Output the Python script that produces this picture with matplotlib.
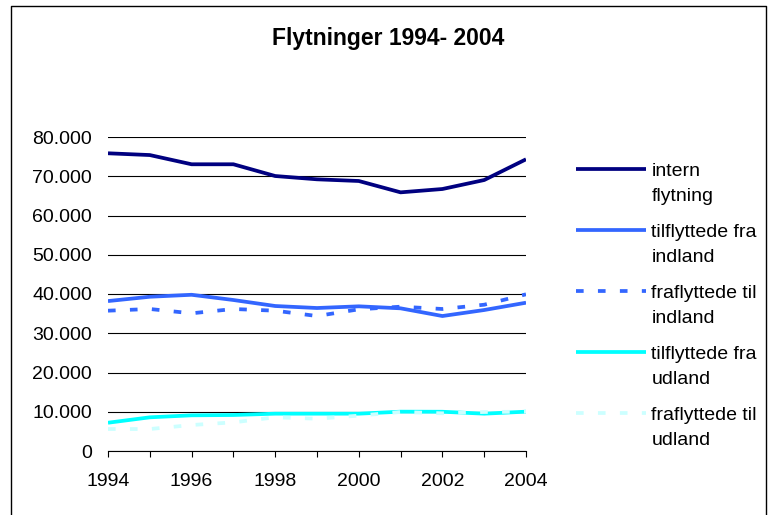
import matplotlib
matplotlib.use("Agg")
import matplotlib.pyplot as plt
from matplotlib.lines import Line2D
from matplotlib.legend_handler import HandlerLine2D
from matplotlib.ticker import FuncFormatter

plt.rcParams['font.family'] = ['Liberation Sans', 'DejaVu Sans']

years = [1994, 1995, 1996, 1997, 1998, 1999, 2000, 2001, 2002, 2003, 2004]
intern_flytning = [75850, 75400, 73050, 73050, 70060, 69220, 68790, 65900, 66750, 69040, 74320]
tilfl_indland = [38200, 39300, 39800, 38470, 36940, 36430, 36860, 36350, 34390, 35920, 37780]
frafl_indland = [35750, 36180, 35080, 36180, 35750, 34390, 36100, 36770, 36180, 37270, 39920]
tilfl_udland = [7200, 8580, 9090, 9170, 9510, 9510, 9510, 10020, 10000, 9510, 10020]
frafl_udland = [5600, 5600, 6620, 7300, 8580, 8230, 9000, 9940, 9600, 9940, 10020]

labels = ["intern\nflytning", "tilflyttede fra\nindland", "fraflyttede til\nindland",
          "tilflyttede fra\nudland", "fraflyttede til\nudland"]
title = "Flytninger 1994- 2004"
yticks = [0, 10000, 20000, 30000, 40000, 50000, 60000, 70000, 80000]
xticklabels_years = [1994, 1996, 1998, 2000, 2002, 2004]

W, H = 776, 515
fig = plt.figure(figsize=(W / 100, H / 100), dpi=100)
ax = fig.add_axes([108 / W, 1 - 451 / H, (526 - 108) / W, (451 - 137) / H])

lw = 2.7
dash = (0, (5.5 / lw, 10.3 / lw))
series = [
    (intern_flytning, "#000080", "-"),
    (tilfl_indland, "#3366FF", "-"),
    (frafl_indland, "#3366FF", dash),
    (tilfl_udland, "#00FFFF", "-"),
    (frafl_udland, "#CCFFFF", dash),
]
handles = []
for (vals, col, ls), lab in zip(series, labels):
    h, = ax.plot(years, vals, color=col, linestyle=ls, lw=lw, label=lab,
                 solid_capstyle='butt', dash_capstyle='butt', zorder=3)
    handles.append(h)

ax.set_xlim(years[0], years[-1])
ax.set_ylim(0, 80000)
ax.set_yticks(yticks)
ax.yaxis.set_major_formatter(FuncFormatter(lambda v, p: f"{v:,.0f}".replace(",", ".")))
ax.set_xticks(years)
ax.set_xticklabels([str(y) if y in xticklabels_years else "" for y in years])
ax.tick_params(axis='y', length=0, pad=11.5, labelsize=14)
ax.tick_params(axis='x', length=4.3, width=0.8, direction='out', pad=11.5, labelsize=14, color='black')
ax.grid(axis='y', color='black', lw=0.8, zorder=1)
for s in ['top', 'right', 'left']:
    ax.spines[s].set_visible(False)
ax.spines['bottom'].set_linewidth(0.8)
ax.spines['bottom'].set_zorder(2)

fig.text(0.5, 1 - 38 / H, title, ha='center', va='center', fontsize=16.5, fontweight='bold')


class TopHandler(HandlerLine2D):
    def create_artists(self, legend, orig_handle, xdescent, ydescent, width, height, fontsize, trans):
        arts = super().create_artists(legend, orig_handle, xdescent, ydescent, width, height, fontsize, trans)
        for a in arts:
            yd = a.get_ydata()
            a.set_ydata([y + fontsize * 0.76 for y in yd])
        return arts


leg = fig.legend(handles=handles, labels=labels, loc='upper left',
                 bbox_to_anchor=(558 / W, 1 - 146 / H), frameon=False, fontsize=14,
                 handlelength=3.6, handletextpad=0.3, labelspacing=1.0,
                 handler_map={Line2D: TopHandler()})
for t in leg.get_texts():
    t.set_linespacing(1.58)

# outer chart border (left, top, right)
fig.add_artist(Line2D([11 / W, 11 / W, 766 / W, 766 / W], [0, 1 - 6 / H, 1 - 6 / H, 0],
                      transform=fig.transFigure, color='black', lw=1.0))

fig.savefig("out.png", dpi=100)
